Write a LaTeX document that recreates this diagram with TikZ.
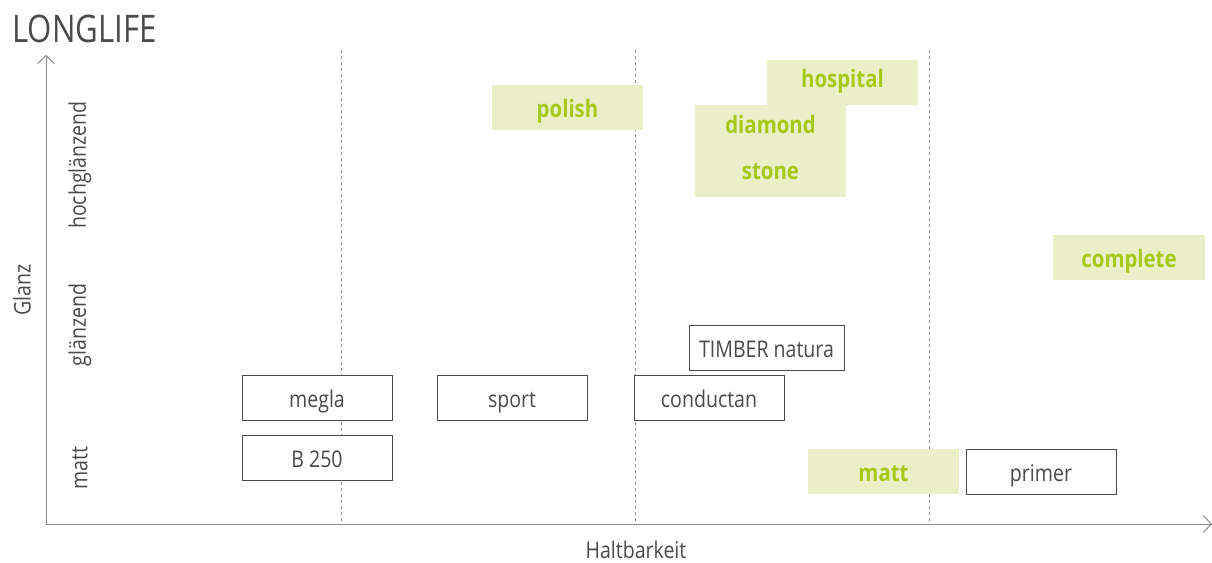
\documentclass[tikz,border=0pt]{standalone}
\usepackage{fontspec}
\setmainfont{Open Sans}[FakeStretch=0.85]
\newfontfamily\titlefont{Open Sans}[FakeStretch=0.82]
\usepackage{xcolor}
\usetikzlibrary{arrows.meta}
\usetikzlibrary{positioning}

\definecolor{axisgray}{HTML}{8C8C8C}
\definecolor{textgray}{HTML}{4A4A4A}
\definecolor{limefill}{HTML}{EBEFC8}
\definecolor{limetext}{HTML}{A6C816}

\begin{document}
\begin{tikzpicture}[x=1pt, y=-1pt, >={Straight Barb[length=8pt,width=17pt]}]
\tikzstyle{product} = [draw=textgray, fill=white, text=textgray, line width=1pt, minimum width=150pt, minimum height=45pt, inner sep=0pt, text height=22pt, text depth=3pt, font=\fontsize{23}{27}\selectfont]
\tikzstyle{highlight} = [fill=limefill, text=limetext, minimum width=151pt, minimum height=45pt, inner sep=0pt, text height=22pt, text depth=3pt, font=\fontsize{24}{28}\selectfont\bfseries]
\tikzstyle{tight} = [text height=14pt, text depth=4pt]
\tikzstyle{grid} = [axisgray, dashed, line width=0.9pt]
\tikzstyle{rowlabel} = [rotate=90, text=textgray, font=\fontsize{23}{27}\selectfont]

\useasboundingbox (0,0) rectangle (1212,562);

% axes
\coordinate (O) at (46,524);
\coordinate (ytop) at (46,55);
\coordinate (xend) at (1212,524);
\draw[->, axisgray, line width=1pt] (O) -- (ytop);
\draw[->, axisgray, line width=1pt] (O) -- (xend);

% dashed separators
\foreach \xx in {341,635,929}
	\draw[grid] (\xx,50) -- (\xx,524);

% titles
\node[anchor=base west, text=textgray, inner sep=0pt, font=\titlefont\fontsize{38}{44}\selectfont] (title) at (12,42) {LONGLIFE};
\node[rowlabel] (glanz) at (22,290) {Glanz};
\node[rowlabel] (hoch) at (80,165) {hochglänzend};
\node[rowlabel] (glaenzend) at (80,325) {glänzend};
\node[rowlabel] (mattlbl) at (80,468) {matt};
\node[anchor=base, inner sep=0pt, text=textgray, font=\fontsize{23}{27}\selectfont] (halt) at (636,558) {Haltbarkeit};

% products
\node[product] (megla) at (317,397.5) {megla};
\node[product] (sport) at (512,397.5) {sport};
\node[product] (conductan) at (709,397.5) {conductan};
\node[product, minimum width=155pt] (timber) at (766.5,347.5) {TIMBER natura};
\node[product] (b250) at (317,457.5) {B 250};
\node[product] (primer) at (1041,471.5) {primer};

% highlighted products
\node[highlight] (polish) at (567.5,107.5) {polish};
\node[highlight, tight] (hospital) at (842.5,82.5) {hospital};
\node[highlight, tight, minimum height=46pt] (diamond) at (770.5,128) {diamond};
\node[highlight, tight, minimum height=46pt] (stone) at (770.5,174) {stone};
\node[highlight, minimum width=152pt] (complete) at (1129,257.5) {complete};
\node[highlight] (matt) at (883.5,471.5) {matt};

\end{tikzpicture}
\end{document}
